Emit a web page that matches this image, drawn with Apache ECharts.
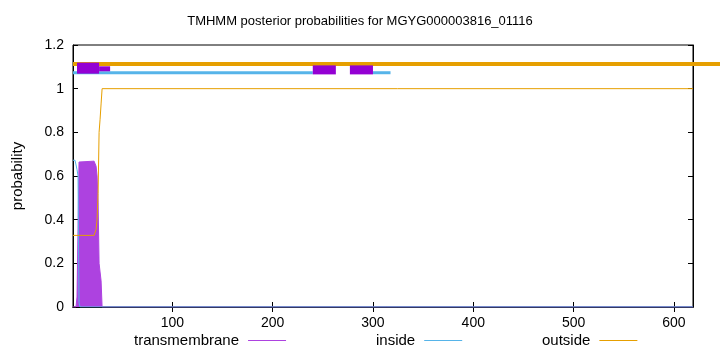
<!DOCTYPE html>
<html><head><meta charset="utf-8">
<script src="https://cdn.jsdelivr.net/npm/echarts@6/dist/echarts.min.js"></script>
<style>html,body{margin:0;padding:0;background:#fff}#c{width:720px;height:352px}</style>
</head><body><div id="c"></div>
<script>
const chartTitle = 'TMHMM posterior probabilities for MGYG000003816_01116';
const xTicks = [100, 200, 300, 400, 500, 600];
const seqStart = 1;
const seqEnd = 619;
// transmembrane posterior probability (residue, value)
const tmX = [1, 4, 5, 6, 7, 8, 22, 23, 24, 25, 26, 27, 28, 29, 30, 619];
const tmY = [0, 0, 0.046, 0.046, 0.664, 0.668, 0.668, 0.66, 0.645, 0.60, 0.48, 0.20, 0.16, 0.12, 0, 0];
// inside posterior probability
const inX = [1, 3, 4, 5, 6, 7, 8, 619];
const inY = [0.672, 0.672, 0.665, 0.63, 0.60, 0.02, 0, 0];
// outside posterior probability
const outX = [1, 22, 23, 24, 25, 26, 27, 28, 29, 30, 619];
const outY = [0.328, 0.328, 0.335, 0.355, 0.40, 0.52, 0.80, 0.86, 0.93, 1, 1];
// predicted topology segments [start, end]
const outsideSegs = [[1, 650]];
const insideSegs = [[1, 240], [300, 317.5]];
const tmSegs = [[5, 27]];
const tmSegsThin = [[27, 38]];
const tmSegsLater = [[240, 263], [277, 300]];

const FONT = 'Liberation Sans';
const zip = (xs, ys) => xs.map((x, i) => [x, ys[i]]);

function segSeries(name, segs, level, thick, color, z) {
  return {
    type: 'custom', name: name, z: z, clip: false, silent: true,
    encode: { x: [0, 1], y: 2 },
    data: segs.map(s => [s[0], s[1], level]),
    renderItem: function (params, api) {
      const a = api.coord([api.value(0), api.value(2)]);
      const b = api.coord([api.value(1), api.value(2)]);
      return { type: 'rect', shape: { x: a[0], y: a[1] - thick / 2, width: b[0] - a[0], height: thick }, style: { fill: color } };
    }
  };
}

const chart = echarts.init(document.getElementById('c'), null, { renderer: 'canvas' });
const tickStyle = { show: true, inside: true, length: 5, lineStyle: { color: '#000' } };
const legendBase = { orient: 'horizontal', top: 333, padding: 0, align: 'right', itemWidth: 38, itemHeight: 1, icon: 'rect',
  textStyle: { fontFamily: FONT, fontSize: 15, color: '#000', padding: [0, 4, 0, 0] } };
chart.setOption({
  animation: false,
  backgroundColor: '#fff',
  title: { text: chartTitle, left: 'center', top: 10, textStyle: { fontFamily: FONT, fontSize: 13, fontWeight: 'normal', color: '#000' } },
  legend: [
    Object.assign({}, legendBase, { left: 134, data: ['transmembrane'] }),
    Object.assign({}, legendBase, { left: 376, data: ['inside'] }),
    Object.assign({}, legendBase, { left: 542, data: ['outside'] })
  ],
  grid: { left: 73, right: 27, top: 45, bottom: 45, show: true, borderColor: '#000', borderWidth: 1, backgroundColor: 'transparent' },
  xAxis: [
    { type: 'value', min: seqStart, max: seqEnd, position: 'bottom',
      axisLine: { show: true, lineStyle: { color: '#000' } },
      axisTick: Object.assign({ customValues: xTicks }, tickStyle),
      axisLabel: { customValues: xTicks, margin: 9, fontFamily: FONT, fontSize: 14, color: '#000' },
      splitLine: { show: false } },
    { type: 'value', min: seqStart, max: seqEnd, position: 'top',
      axisLine: { show: true, lineStyle: { color: '#000' } },
      axisTick: Object.assign({ customValues: xTicks }, tickStyle),
      axisLabel: { show: false }, splitLine: { show: false } }
  ],
  yAxis: [
    { type: 'value', min: 0, max: 1.2, interval: 0.2, position: 'left',
      name: 'probability', nameLocation: 'middle', nameGap: 48,
      nameTextStyle: { fontFamily: FONT, fontSize: 15, color: '#000' },
      axisLine: { show: true, lineStyle: { color: '#000' } },
      axisTick: tickStyle,
      axisLabel: { margin: 9, fontFamily: FONT, fontSize: 14, color: '#000' },
      splitLine: { show: false } },
    { type: 'value', min: 0, max: 1.2, interval: 0.2, position: 'right',
      axisLine: { show: true, lineStyle: { color: '#000' } },
      axisTick: tickStyle, axisLabel: { show: false }, splitLine: { show: false } }
  ],
  series: [
    { type: 'line', name: 'transmembrane', data: zip(tmX, tmY), color: '#ad42e0', z: 2,
      showSymbol: false, symbol: 'none', lineStyle: { width: 1, color: '#ad42e0' },
      areaStyle: { color: '#ad42e0', opacity: 1 } },
    { type: 'line', name: 'inside', data: zip(inX, inY), color: '#56b4e9', z: 3,
      showSymbol: false, symbol: 'none', lineStyle: { width: 1, color: '#56b4e9' } },
    { type: 'line', name: 'outside', data: zip(outX, outY), color: '#e69f00', z: 4,
      showSymbol: false, symbol: 'none', lineStyle: { width: 1, color: '#e69f00' } },
    segSeries('outsideTopo', outsideSegs, 1.113, 4, '#e69f00', 5),
    segSeries('insideTopo', insideSegs, 1.073, 3, '#56b4e9', 6),
    segSeries('tmTopo', tmSegs, 1.094, 11, '#9400d3', 7),
    segSeries('tmTopoThin', tmSegsThin, 1.091, 5, '#9400d3', 7),
    segSeries('tmTopoLater', tmSegsLater, 1.086, 9, '#9400d3', 7)
  ]
});
</script>
</body></html>
